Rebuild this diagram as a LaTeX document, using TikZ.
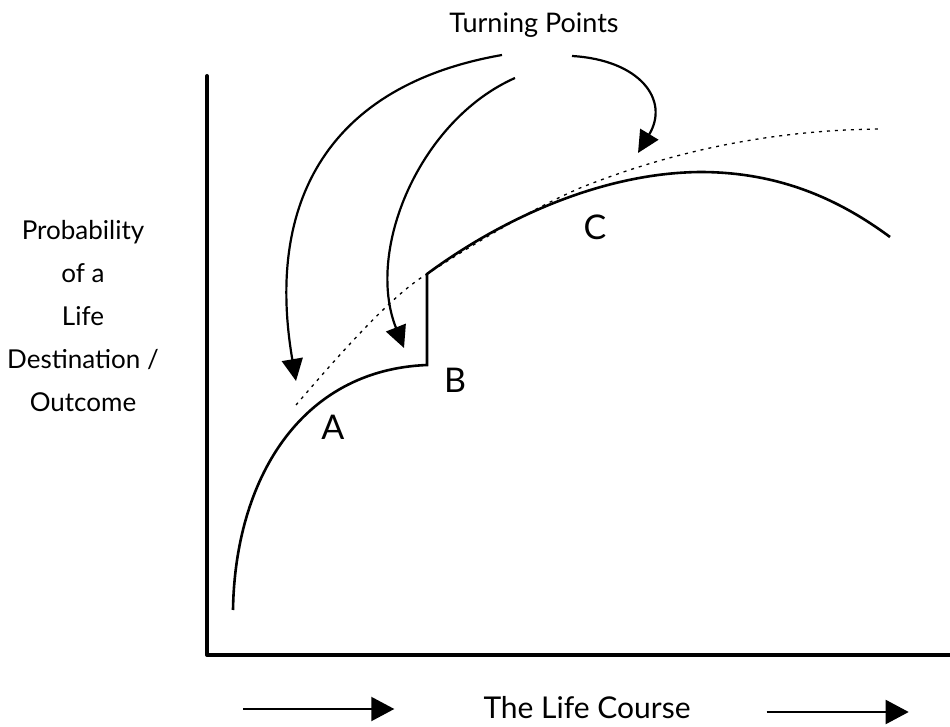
\documentclass[tikz,border=0pt]{standalone}
\usepackage{fontspec}
\setmainfont{Lato}
\usetikzlibrary{arrows.meta}

\begin{document}
\begin{tikzpicture}[x=1pt,y=-1pt,
  axisline/.style={line width=4pt,line cap=round,line join=round},
  lifecurve/.style={line width=2.6pt,line join=miter},
  guideline/.style={line width=1.3pt,dash pattern=on 3pt off 5pt},
  tparrow/.style={line width=2.2pt,-{Triangle[length=22pt,width=21pt]}},
  coursearrow/.style={line width=2pt,-{Triangle[length=23pt,width=24pt]}},
  letter/.style={inner sep=0pt,font=\fontsize{34}{40}\selectfont}]
\useasboundingbox (0,0) rectangle (950,727);
% axes
\draw[axisline] (207,76) |- (950,655);
% labels
\node[inner sep=0pt,font=\fontsize{27}{32}\selectfont] (tp) at (534,25) {Turning Points};
\node[inner sep=0pt,align=center,font=\fontsize{26}{43}\selectfont] (ylab) at (83,316)
  {Probability\\of a\\Life\\Destination /\\Outcome};
\node[inner sep=0pt,font=\fontsize{30}{36}\selectfont] (course) at (587,708) {The Life Course};
\node[letter] (la) at (333,427) {A};
\node[letter] (lb) at (455,380) {B};
\node[letter] (lc) at (595,227) {C};
% expected path (dotted) and actual path
\draw[guideline] (296,405) .. controls (360,330) and (400,290) .. (427,274)
  .. controls (480,240) and (530,210) .. (580,188)
  .. controls (680,148) and (780,130) .. (880,129);
\draw[lifecurve] (233,610) .. controls (235,480) and (300,370) .. (427,365)
  -- (427,274) .. controls (500,220) and (600,173) .. (700,172)
  .. controls (780,172) and (840,200) .. (890,237);
% turning points
\coordinate (tA) at (296,381);
\coordinate (tB) at (404,348);
\coordinate (tC) at (638,153);
\draw[tparrow] ([shift={(-32,30)}]tp.center) .. controls (330,85) and (265,200) .. (tA);
\draw[tparrow] ([shift={(-19,53)}]tp.center) .. controls (420,120) and (365,250) .. (tB);
\draw[tparrow] ([shift={(38,31)}]tp.center) .. controls (640,60) and (670,100) .. (tC);
% life course arrows
\draw[coursearrow] ([shift={(-240,1)}]course.west) -- ([shift={(-89,1)}]course.west);
\draw[coursearrow] ([shift={(76,4)}]course.east) -- ([shift={(218,4)}]course.east);
\end{tikzpicture}
\end{document}
